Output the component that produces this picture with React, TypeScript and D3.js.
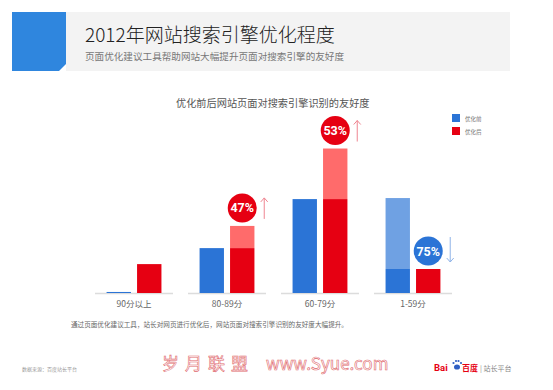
import React from 'react';
import * as d3 from 'd3';

// data (share of pages, %)
const categories = ['90分以上', '80-89分', '60-79分', '1-59分'];
const seriesNames = ['优化前', '优化后'];
const beforeValues = [0.4, 17.4, 36.4, 36.8];
const afterValues = [11.2, 26, 56, 9.3];
const changeLabels = ['', '47%', '53%', '75%'];
const changeDirs = ['', 'up', 'up', 'down'];

const BLUE = '#2b74d6';
const BLUE_LIGHT = '#6fa1e3';
const RED = '#e60012';
const RED_LIGHT = '#ff6b6b';
const FONT = '"Noto Sans CJK SC", "Noto Sans", sans-serif';

const W = 553;
const H = 390;
const baseY = 293;

const App = () => {
  const x0 = d3.scaleBand<string>()
    .domain(categories)
    .range([95, 452])
    .paddingInner(0.161)
    .paddingOuter(0);

  const x1 = d3.scaleBand<string>()
    .domain(['before', 'after'])
    .range([0, x0.bandwidth()])
    .paddingInner(0.2)
    .paddingOuter(0.38);

  const y = d3.scaleLinear().domain([0, 60]).range([baseY, 138.2]);

  const bw = x1.bandwidth();

  return (
    <svg width={W} height={H} style={{ position: 'absolute', left: 0, top: 0, background: '#fff' }} fontFamily={FONT}>
      {/* header band */}
      <rect x={66} y={12} width={444} height={59} fill="#f3f3f3" />
      <path d="M12,12 H66 V64 L59,71 H12 Z" fill="#2f86de" />
      <text x={85} y={42} fontSize={19} fontWeight={300} fill="#222">2012年网站搜索引擎优化程度</text>
      <text x={85} y={60} fontSize={9.6} fill="#777">页面优化建议工具帮助网站大幅提升页面对搜索引擎的友好度</text>

      {/* chart title */}
      <text x={176} y={107} fontSize={10.2} fill="#555">优化前后网站页面对搜索引擎识别的友好度</text>

      {/* legend */}
      {seriesNames.map((s, i) => (
        <g key={s} transform={`translate(452,${114 + i * 13})`}>
          <rect width={8} height={8} fill={i === 0 ? BLUE : RED} />
          <text x={13} y={6.5} fontSize={5.5} fill="#777">{s}</text>
        </g>
      ))}

      {categories.map((c, i) => {
        const gx = x0(c) as number;
        const b = beforeValues[i];
        const a = afterValues[i];
        const bx = gx + (x1('before') as number);
        const ax = gx + (x1('after') as number);
        const label = changeLabels[i];
        const dir = changeDirs[i];
        const cx = ax + bw / 2;
        const cy = y(a) - 18;
        return (
          <g key={c}>
            <line x1={gx} x2={gx + x0.bandwidth()} y1={baseY + 0.5} y2={baseY + 0.5} stroke="#dcdcdc" strokeWidth={1.5} />
            {/* before bar */}
            {label && dir === 'down' ? (
              <>
                <rect x={bx} y={y(b)} width={bw} height={y(a) - y(b)} fill={BLUE_LIGHT} />
                <rect x={bx} y={y(a)} width={bw} height={baseY - y(a)} fill={BLUE} />
              </>
            ) : (
              <rect x={bx} y={y(b)} width={bw} height={baseY - y(b)} fill={BLUE} />
            )}
            {/* after bar */}
            {label && dir === 'up' ? (
              <>
                <rect x={ax} y={y(a)} width={bw} height={y(b) - y(a)} fill={RED_LIGHT} />
                <rect x={ax} y={y(b)} width={bw} height={baseY - y(b)} fill={RED} />
              </>
            ) : (
              <rect x={ax} y={y(a)} width={bw} height={baseY - y(a)} fill={RED} />
            )}
            <text x={gx + x0.bandwidth() / 2} y={307} fontSize={8.5} fill="#666" textAnchor="middle">{c}</text>
            {label && (
              <g>
                <circle cx={cx} cy={cy} r={14.5} fill={dir === 'up' ? RED : BLUE} />
                <text x={cx} y={cy + 4.5} fontSize={12.5} fontWeight="bold" fill="#fff" textAnchor="middle" fontFamily="Roboto, sans-serif">{label}</text>
                {dir === 'up' ? (
                  <path d={`M${cx + 22},${cy + 11} V${cy - 10} M${cx + 18.5},${cy - 6} L${cx + 22},${cy - 10} L${cx + 25.5},${cy - 6}`} stroke="#ef8591" strokeWidth={1} fill="none" />
                ) : (
                  <path d={`M${cx + 22},${cy - 14} V${cy + 11} M${cx + 18.5},${cy + 7} L${cx + 22},${cy + 11} L${cx + 25.5},${cy + 7}`} stroke="#8fb3e8" strokeWidth={1} fill="none" />
                )}
              </g>
            )}
          </g>
        );
      })}

      {/* footnote */}
      <text x={71} y={327} fontSize={6.6} fill="#666">通过页面优化建议工具，站长对网页进行优化后，网站页面对搜索引擎识别的友好度大幅提升。</text>

      {/* footer */}
      <text x={22} y={371} fontSize={5} fill="#999">数据来源：百度站长平台</text>
      <text x={162} y={370} fontSize={17} fill="#fff" stroke="#e0686c" strokeWidth={0.6} letterSpacing={6}>岁月联盟</text>
      <text x={266} y={370} fontSize={17} fill="#fff" stroke="#e0686c" strokeWidth={0.6}>www.Syue.com</text>
      <text x={434} y={371} fontSize={9.5} fontWeight="bold" fill={RED} fontFamily="Roboto, sans-serif">Bai</text>
      <g fill="#2f5fc4">
        <ellipse cx={457} cy={367} rx={3} ry={2.6} />
        <circle cx={453.5} cy={363} r={1.1} />
        <circle cx={456} cy={361} r={1.1} />
        <circle cx={458.5} cy={361} r={1.1} />
        <circle cx={461} cy={363} r={1.1} />
      </g>
      <text x={462} y={371} fontSize={8} fontWeight="bold" fill={RED}>百度</text>
      <text x={480} y={371} fontSize={7} fill="#888">| 站长平台</text>
    </svg>
  );
};

export default App;
